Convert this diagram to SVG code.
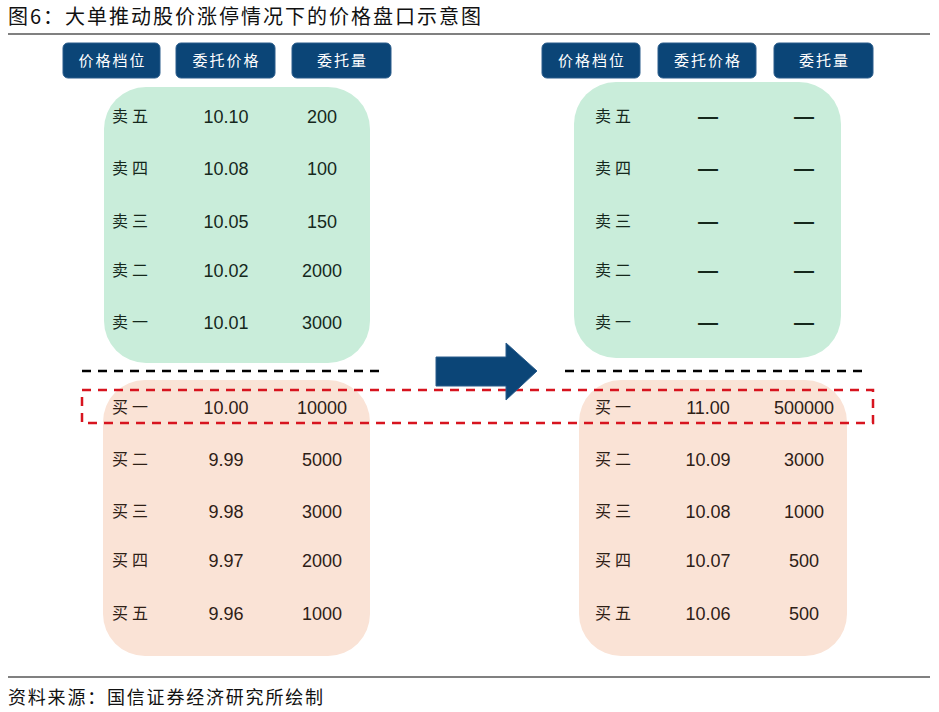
<svg xmlns="http://www.w3.org/2000/svg" width="939" height="712" viewBox="0 0 939 712">
<style>
.title{font-family:"Noto Sans CJK SC","Liberation Sans",sans-serif;font-size:20px;letter-spacing:2px;fill:#111}
.foot{font-family:"Noto Sans CJK SC","Liberation Sans",sans-serif;font-size:18px;letter-spacing:1.8px;fill:#111}
.hdr rect{fill:#0b4577;stroke:#2a5d8c;stroke-width:1}
.hdr text{font-family:"Noto Sans CJK SC",sans-serif;font-size:15px;letter-spacing:2px;fill:#fff;text-anchor:middle}
.sell{fill:#c9edda}
.buy{fill:#fae3d6}
.lab{font-family:"Noto Sans CJK SC",sans-serif;font-size:16px;letter-spacing:4px}
.num{font-family:"Liberation Sans",Arial,sans-serif;font-size:18px;text-anchor:middle}
.dash{font-family:"Liberation Sans",Arial,sans-serif;font-size:20px;text-anchor:middle;font-weight:bold}
.s text{fill:#15281c}
.b text{fill:#2e2016}
.rule{stroke:#808080;stroke-width:2}
</style>
<text class="title" x="8" y="24">图6：大单推动股价涨停情况下的价格盘口示意图</text>
<line class="rule" x1="8" y1="34" x2="930" y2="34"/>

<g id="headers-left" class="hdr">
<rect x="63" y="43" width="97" height="35" rx="5"/><text x="112.5" y="66">价格档位</text>
<rect x="176" y="43" width="99" height="35" rx="5"/><text x="226.5" y="66">委托价格</text>
<rect x="292" y="43" width="99" height="35" rx="5"/><text x="342.5" y="66">委托量</text>
</g>
<g id="headers-right" class="hdr">
<rect x="542" y="43" width="98" height="35" rx="5"/><text x="592" y="66">价格档位</text>
<rect x="658" y="43" width="98" height="35" rx="5"/><text x="708" y="66">委托价格</text>
<rect x="774" y="43" width="99" height="35" rx="5"/><text x="824.5" y="66">委托量</text>
</g>

<g id="sell-left" class="s">
<rect class="sell" x="104" y="87" width="266" height="276" rx="42"/>
<text class="lab" x="112" y="122">卖五</text><text class="num" x="226" y="123">10.10</text><text class="num" x="322" y="123">200</text>
<text class="lab" x="112" y="174">卖四</text><text class="num" x="226" y="175">10.08</text><text class="num" x="322" y="175">100</text>
<text class="lab" x="112" y="227">卖三</text><text class="num" x="226" y="228">10.05</text><text class="num" x="322" y="228">150</text>
<text class="lab" x="112" y="276">卖二</text><text class="num" x="226" y="277">10.02</text><text class="num" x="322" y="277">2000</text>
<text class="lab" x="112" y="328">卖一</text><text class="num" x="226" y="329">10.01</text><text class="num" x="322" y="329">3000</text>
</g>

<g id="buy-left" class="b">
<rect class="buy" x="103" y="380" width="267" height="276" rx="42"/>
<text class="lab" x="112" y="413">买一</text><text class="num" x="226" y="414">10.00</text><text class="num" x="322" y="414">10000</text>
<text class="lab" x="112" y="465">买二</text><text class="num" x="226" y="466">9.99</text><text class="num" x="322" y="466">5000</text>
<text class="lab" x="112" y="517">买三</text><text class="num" x="226" y="518">9.98</text><text class="num" x="322" y="518">3000</text>
<text class="lab" x="112" y="566">买四</text><text class="num" x="226" y="567">9.97</text><text class="num" x="322" y="567">2000</text>
<text class="lab" x="112" y="619">买五</text><text class="num" x="226" y="620">9.96</text><text class="num" x="322" y="620">1000</text>
</g>

<g id="sell-right" class="s">
<rect class="sell" x="574" y="82" width="267" height="276" rx="42"/>
<text class="lab" x="595" y="122">卖五</text><text class="dash" x="708" y="123">—</text><text class="dash" x="804" y="123">—</text>
<text class="lab" x="595" y="174">卖四</text><text class="dash" x="708" y="175">—</text><text class="dash" x="804" y="175">—</text>
<text class="lab" x="595" y="227">卖三</text><text class="dash" x="708" y="228">—</text><text class="dash" x="804" y="228">—</text>
<text class="lab" x="595" y="276">卖二</text><text class="dash" x="708" y="277">—</text><text class="dash" x="804" y="277">—</text>
<text class="lab" x="595" y="328">卖一</text><text class="dash" x="708" y="329">—</text><text class="dash" x="804" y="329">—</text>
</g>

<g id="buy-right" class="b">
<rect class="buy" x="579" y="380" width="268" height="276" rx="42"/>
<text class="lab" x="595" y="413">买一</text><text class="num" x="708" y="414">11.00</text><text class="num" x="804" y="414">500000</text>
<text class="lab" x="595" y="465">买二</text><text class="num" x="708" y="466">10.09</text><text class="num" x="804" y="466">3000</text>
<text class="lab" x="595" y="517">买三</text><text class="num" x="708" y="518">10.08</text><text class="num" x="804" y="518">1000</text>
<text class="lab" x="595" y="566">买四</text><text class="num" x="708" y="567">10.07</text><text class="num" x="804" y="567">500</text>
<text class="lab" x="595" y="619">买五</text><text class="num" x="708" y="620">10.06</text><text class="num" x="804" y="620">500</text>
</g>

<g id="connectors">
<line x1="82" y1="371" x2="386" y2="371" stroke="#000" stroke-width="2.5" stroke-dasharray="9,7"/>
<line x1="565" y1="371" x2="868" y2="371" stroke="#000" stroke-width="2.5" stroke-dasharray="9,7"/>
<rect x="82" y="390" width="791" height="33" fill="none" stroke="#d7141f" stroke-width="2.5" stroke-dasharray="9,7"/>
<path d="M436,357 H506 V343 L537,371 L506,400 V386 H436 Z" fill="#0b4577" stroke="#2a5d8c" stroke-width="1"/>
</g>

<line class="rule" x1="8" y1="677" x2="930" y2="677"/>
<text class="foot" x="8" y="704">资料来源：国信证券经济研究所绘制</text>
</svg>
